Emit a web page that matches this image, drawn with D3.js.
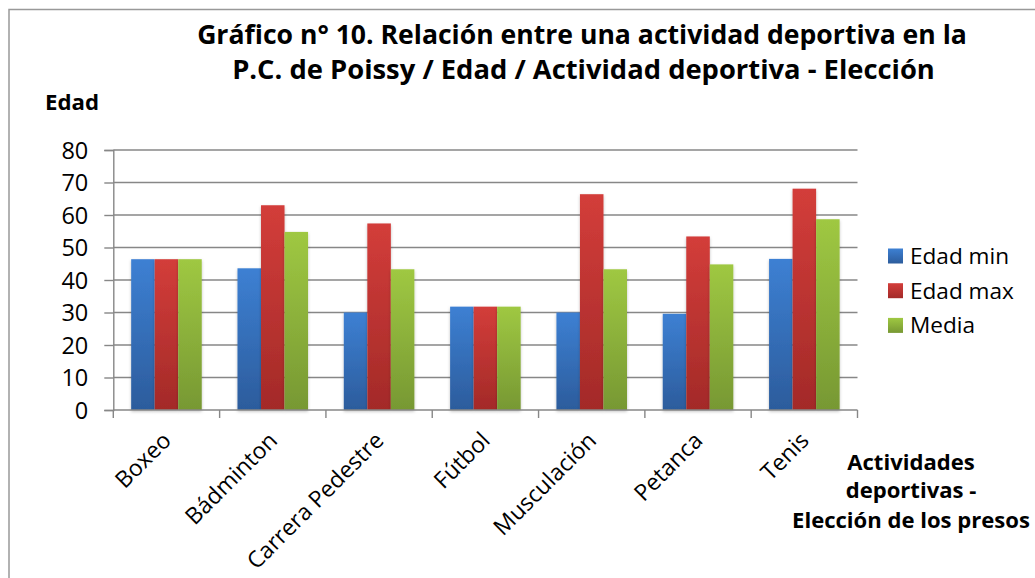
<!DOCTYPE html>
<html><head><meta charset="utf-8">
<script src="https://cdn.jsdelivr.net/npm/d3@7"></script>
<style>body{margin:0;background:#fff}svg{display:block}text{font-family:"Open Sans",sans-serif;fill:#000}</style>
</head><body><div id="c"></div>
<script>
const categories = ["Boxeo","Bádminton","Carrera Pedestre","Fútbol","Musculación","Petanca","Tenis"];
const seriesNames = ["Edad min","Edad max","Media"];
const edadMin = [46.4, 43.6, 30.0, 31.8, 30.0, 29.6, 46.5];
const edadMax = [46.4, 63.0, 57.4, 31.8, 66.4, 53.4, 68.1];
const media   = [46.4, 54.8, 43.3, 31.8, 43.3, 44.8, 58.7];
const yTicks = [0,10,20,30,40,50,60,70,80];
const titleLines = ["Gráfico n° 10. Relación entre una actividad deportiva en la","P.C. de Poissy / Edad / Actividad deportiva - Elección"];
const yTitle = "Edad";
const xTitleLines = ["Actividades","deportivas -","Elección de los presos"];

const W=1035,H=578;
const svg=d3.select("#c").append("svg").attr("width",W).attr("height",H);
const series=[edadMin,edadMax,media];
const colors=[["#3d80d3","#2c5c9c"],["#d33d3a","#a32a28"],["#9fc842","#779833"]];
const defs=svg.append("defs");
colors.forEach((c,i)=>{
  const g=defs.append("linearGradient").attr("id","g"+i).attr("x1",0).attr("y1",0).attr("x2",0).attr("y2",1);
  g.append("stop").attr("offset","0%").attr("stop-color",c[0]);
  g.append("stop").attr("offset","100%").attr("stop-color",c[1]);
});
const f=defs.append("filter").attr("id","sh").attr("x","-20%").attr("y","-5%").attr("width","140%").attr("height","115%");
f.append("feDropShadow").attr("dx",0).attr("dy",1.5).attr("stdDeviation",1.5).attr("flood-color","#000").attr("flood-opacity",0.25);

// border
svg.append("rect").attr("x",9).attr("y",9.5).attr("width",1040).attr("height",600).attr("fill","none").attr("stroke","#999").attr("stroke-width",1.5);

const x=d3.scaleBand().domain(categories).range([113.3,857.5]).padding(0);
const xs=d3.scaleBand().domain(seriesNames).range([0,x.bandwidth()]).paddingInner(0).paddingOuter(0.76);
const y=d3.scaleLinear().domain([0,80]).range([410,150]);

function fit(sel,target,weight){
  sel.attr("font-size",100).attr("font-weight",weight||"normal");
  const w=sel.node().getComputedTextLength();
  sel.attr("font-size",100*target/w);
}

// gridlines
svg.append("g").selectAll("line").data(yTicks.slice(1)).join("line")
  .attr("x1",113.3).attr("x2",857.5).attr("y1",d=>y(d)).attr("y2",d=>y(d))
  .attr("stroke","#878787").attr("stroke-width",1.4);

// y axis
const ya=svg.append("g").attr("transform","translate(113.3,0)").call(d3.axisLeft(y).tickValues(yTicks).tickSize(9).tickPadding(0));
ya.select(".domain").attr("stroke","#878787").attr("stroke-width",1.4);
ya.selectAll(".tick line").attr("stroke","#878787").attr("stroke-width",1.4);
ya.selectAll(".tick text").attr("x",-25).attr("dy","0.35em").attr("font-family","Open Sans").attr("font-size",23.5).attr("fill","#000");

// bars
svg.append("g").selectAll("g").data(series).join("g").attr("fill",(d,i)=>`url(#g${i})`).attr("filter","url(#sh)")
  .each(function(vals,si){
    d3.select(this).selectAll("rect").data(vals).join("rect")
      .attr("x",(v,ci)=>x(categories[ci])+xs(seriesNames[si]))
      .attr("width",xs.bandwidth())
      .attr("y",v=>y(v)).attr("height",v=>y(0)-y(v));
  });

// x axis
const xa=svg.append("g").attr("transform","translate(0,410)");
xa.append("line").attr("x1",113.3).attr("x2",857.5).attr("stroke","#878787").attr("stroke-width",1.4);
const bounds=categories.map(c=>x(c)).concat([x.range()[1]]);
xa.selectAll("line.t").data(bounds).join("line").attr("class","t").attr("x1",d=>d).attr("x2",d=>d).attr("y1",0).attr("y2",8).attr("stroke","#878787").attr("stroke-width",1.4);

// x labels
const xl=svg.append("g").selectAll("text").data(categories).join("text")
  .attr("text-anchor","end")
  .attr("transform",d=>`translate(${x(d)+x.bandwidth()/2+6},442) rotate(-45)`)
  .text(d=>d);
fit(d3.select(xl.nodes()[2]),182);
xl.attr("font-size",d3.select(xl.nodes()[2]).attr("font-size"));

// title
const tl=svg.append("g").selectAll("text").data(titleLines).join("text")
  .attr("text-anchor","middle").attr("x",582).attr("y",(d,i)=>[43.5,78.5][i]).text(d=>d);
fit(d3.select(tl.nodes()[0]),770,"bold");
fit(d3.select(tl.nodes()[1]),703,"bold");
d3.select(tl.nodes()[1]).attr("x",583.5);

// y title
const yt=svg.append("text").attr("x",45).attr("y",110).text(yTitle);
fit(yt,54,"bold");

// x title
const xt=svg.append("g").selectAll("text").data(xTitleLines).join("text")
  .attr("text-anchor","middle").attr("x",911).attr("y",(d,i)=>[470,498,528][i]).text(d=>d);
fit(d3.select(xt.nodes()[2]),238,"bold");
xt.attr("font-size",d3.select(xt.nodes()[2]).attr("font-size")).attr("font-weight","bold");

// legend
const lg=svg.append("g").selectAll("g").data(seriesNames).join("g")
  .attr("transform",(d,i)=>`translate(888,${248.5+i*34.7})`);
lg.append("rect").attr("width",15).attr("height",15).attr("fill",(d,i)=>`url(#g${i})`);
const lt=lg.append("text").attr("x",22).attr("y",7.5).attr("dy","0.35em").text(d=>d);
fit(d3.select(lt.nodes()[0]),99);
lt.attr("font-size",d3.select(lt.nodes()[0]).attr("font-size"));
</script></body></html>
